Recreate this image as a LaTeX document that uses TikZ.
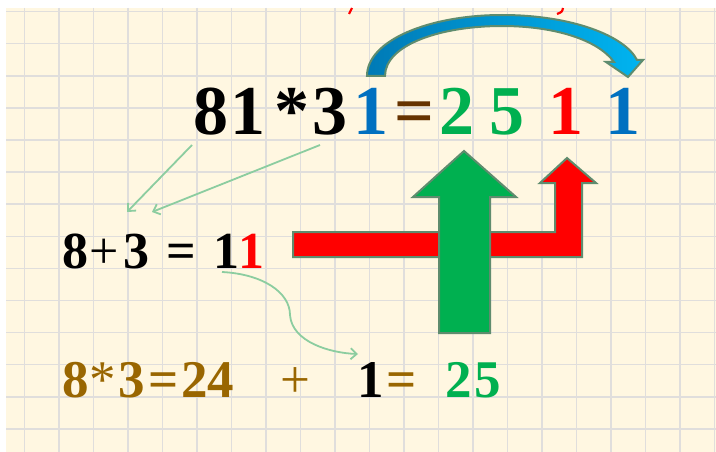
\documentclass[tikz,border=0pt]{standalone}
\usepackage{fontspec}
\setmainfont{Liberation Serif}
\usetikzlibrary{arrows.meta}
\definecolor{bg}{RGB}{255,247,225}
\definecolor{gridc}{RGB}{224,222,220}
\definecolor{mblue}{RGB}{0,112,192}
\definecolor{mgreen}{RGB}{0,176,80}
\definecolor{mbrown}{RGB}{102,51,0}
\definecolor{mgold}{RGB}{153,102,0}
\definecolor{lgreen}{RGB}{140,205,160}
\definecolor{edgec}{RGB}{95,140,110}
\definecolor{cyanA}{RGB}{0,180,240}
\definecolor{tealA}{RGB}{0,122,182}
\begin{document}
\begin{tikzpicture}[x=1pt,y=-1pt,
  big/.style={font=\fontsize{70}{70}\selectfont\bfseries, inner sep=0pt, anchor=base},
  mid/.style={font=\fontsize{52}{52}\selectfont\bfseries, inner sep=0pt, anchor=base},
  low/.style={font=\fontsize{53}{53}\selectfont\bfseries, inner sep=0pt, anchor=base},
  reg/.style={font=\fontsize{53}{53}\selectfont, inner sep=0pt, anchor=base},
  thinarrow/.style={lgreen, line width=1.8pt, -{Straight Barb[length=6pt,width=11pt]}},
  blockarrow/.style={draw=edgec, line width=2pt, line join=miter}]
\useasboundingbox (0,0) rectangle (716,452);
\fill[white] (0,0) rectangle (716,452);
\fill[bg] (6,8) rectangle (716,452);
\begin{scope}
\clip (6,8) rectangle (716,452);
\foreach \i in {0,...,20} \draw[gridc, line width=1.5pt] ({24.3+34.5*\i},8) -- ({24.3+34.5*\i},452);
\foreach \j in {0,...,13} \draw[gridc, line width=1.5pt] (6,{11.6+32.1*\j}) -- (716,{11.6+32.1*\j});
\end{scope}
% red fragments at the top edge
\draw[red, line width=2.2pt] (352,8) -- (349,14);
\draw[red, line width=2.2pt] (563,8) .. controls (562,12) .. (557,14);
% curved blue arrow
\shadedraw[left color=tealA, right color=cyanA, draw=edgec, line width=2pt, line join=miter]
 (367,76) .. controls (367,40) and (430,15) .. (502,15)
 .. controls (572,15) and (625,36) .. (637,60) -- (643,60) -- (628,77) -- (606,62) -- (614,62)
 .. controls (598,40) and (555,26) .. (502,26)
 .. controls (440,26) and (385,45) .. (385,76) -- cycle;
% top equation
\node[big] (t1) at (211,135) {8};
\node[big] (t2) at (248,135) {1};
\node[big] (t3) at (292,135) {*};
\node[big] (t4) at (330,135) {3};
\node[big, text=mblue] (t5) at (371,135) {1};
\node[big, text=mbrown] (t6) at (414,135) {=};
\node[big, text=mgreen] (t7) at (457,135) {2};
\node[big, text=mgreen] (t8) at (507,135) {5};
\node[big, text=red] (t9) at (566,135) {1};
\node[big, text=mblue] (t10) at (623,135) {1};
% second line
\node[mid] (m1) at (75,268) {8};
\node[mid, font=\fontsize{52}{52}\selectfont] (m2) at (104,268) {+};
\node[mid] (m3) at (136.5,268) {3};
\node[mid] (m4) at (181,268) {=};
\node[mid] (m5) at (226,268) {1};
\node[mid, text=red] (m6) at (251,268) {1};
% third line
\node[low, text=mgold] (b1) at (75.5,397) {8};
\node[reg, text=mgold] (b2) at (102.5,397) {*};
\node[low, text=mgold] (b3) at (131.5,397) {3};
\node[low, text=mgold] (b4) at (163.5,397) {=};
\node[low, text=mgold] (b5) at (194.5,397) {2};
\node[low, text=mgold] (b6) at (220.5,397) {4};
\node[reg, text=mgold] (b7) at (295,397) {+};
\node[low] (b8) at (371,397) {1};
\node[low, text=mgold] (b9) at (401.5,397) {=};
\node[low, text=mgreen] (b10) at (459,397) {2};
\node[low, text=mgreen] (b11) at (488,397) {5};
% thin green arrows
\coordinate (a1s) at (192,145);
\coordinate (a1e) at (127,212);
\coordinate (a2s) at (320,145);
\coordinate (a2e) at (152,212);
\draw[thinarrow] (a1s) -- (a1e);
\draw[thinarrow] (a2s) -- (a2e);
\coordinate (cs) at (222,272);
\coordinate (ce) at (358,354);
\draw[thinarrow] (cs) .. controls (262,274) and (290,292) .. (290,315)
  .. controls (292,342) and (330,353) .. (ce);
% red bent arrow
\filldraw[blockarrow, fill=red] (293,232) -- (555,232) -- (555,183) -- (540,183) -- (567,158)
  -- (596,183) -- (582,183) -- (582,257) -- (293,257) -- cycle;
% green up arrow
\filldraw[blockarrow, fill=mgreen] (439,333) -- (439,197) -- (413,197) -- (464,151)
  -- (516,197) -- (490,197) -- (490,333) -- cycle;
\end{tikzpicture}
\end{document}
